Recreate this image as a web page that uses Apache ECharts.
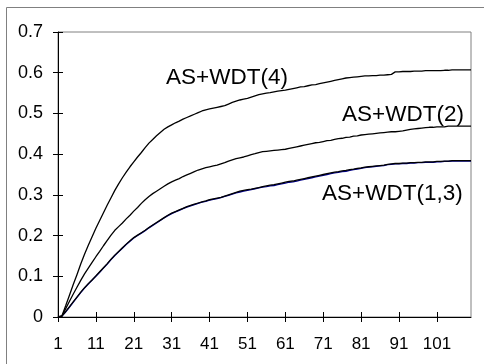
<!DOCTYPE html>
<html>
<head>
<meta charset="utf-8">
<script src="https://cdn.jsdelivr.net/npm/echarts@6/dist/echarts.min.js"></script>
<style>
  html, body { margin: 0; padding: 0; background: #fff; }
  #chart { width: 484px; height: 364px; }
</style>
</head>
<body>
<div id="chart"></div>
<script>
// Step numbers 1..110 along the horizontal axis
const steps = Array.from({ length: 110 }, (_, i) => String(i + 1));

const wdt4 = [
  0, 0.002, 0.027, 0.053, 0.079, 0.104, 0.130, 0.154, 0.176, 0.197,
  0.218, 0.237, 0.256, 0.275, 0.293, 0.311, 0.327, 0.342, 0.356, 0.369,
  0.381, 0.393, 0.404, 0.416, 0.427, 0.436, 0.445, 0.453, 0.461, 0.467,
  0.472, 0.477, 0.481, 0.486, 0.490, 0.494, 0.498, 0.502, 0.506, 0.509,
  0.511, 0.513, 0.515, 0.517, 0.519, 0.523, 0.527, 0.530, 0.533, 0.535,
  0.537, 0.540, 0.543, 0.546, 0.548, 0.550, 0.551, 0.553, 0.555, 0.556,
  0.557, 0.559, 0.561, 0.563, 0.565, 0.566, 0.568, 0.570, 0.571, 0.573,
  0.575, 0.577, 0.579, 0.581, 0.583, 0.585, 0.587, 0.588, 0.589, 0.590,
  0.591, 0.592, 0.592, 0.593, 0.593, 0.594, 0.594, 0.595, 0.596, 0.602,
  0.602, 0.603, 0.603, 0.603, 0.604, 0.604, 0.604, 0.605, 0.605, 0.605,
  0.605, 0.605, 0.606, 0.606, 0.607, 0.607, 0.607, 0.607, 0.607, 0.607
];

const wdt2 = [
  0, 0.002, 0.020, 0.038, 0.056, 0.073, 0.090, 0.106, 0.120, 0.134,
  0.148, 0.161, 0.175, 0.188, 0.201, 0.213, 0.222, 0.231, 0.241, 0.250,
  0.260, 0.269, 0.279, 0.288, 0.296, 0.303, 0.309, 0.315, 0.321, 0.327,
  0.332, 0.336, 0.340, 0.345, 0.349, 0.353, 0.357, 0.361, 0.364, 0.367,
  0.369, 0.371, 0.373, 0.376, 0.379, 0.383, 0.386, 0.389, 0.391, 0.393,
  0.396, 0.399, 0.401, 0.404, 0.406, 0.407, 0.408, 0.409, 0.410, 0.411,
  0.412, 0.414, 0.416, 0.418, 0.420, 0.422, 0.424, 0.426, 0.428, 0.429,
  0.431, 0.433, 0.434, 0.436, 0.438, 0.439, 0.441, 0.442, 0.444, 0.445,
  0.447, 0.448, 0.449, 0.450, 0.451, 0.452, 0.453, 0.454, 0.455, 0.455,
  0.456, 0.457, 0.459, 0.461, 0.462, 0.463, 0.464, 0.465, 0.466, 0.466,
  0.467, 0.467, 0.467, 0.469, 0.469, 0.469, 0.469, 0.469, 0.469, 0.469
];

const wdt1 = [
  0, 0.002, 0.013, 0.025, 0.037, 0.049, 0.061, 0.072, 0.082, 0.091,
  0.101, 0.111, 0.121, 0.131, 0.142, 0.152, 0.161, 0.170, 0.179, 0.187,
  0.195, 0.201, 0.207, 0.213, 0.220, 0.226, 0.232, 0.238, 0.244, 0.250,
  0.255, 0.259, 0.263, 0.267, 0.271, 0.274, 0.277, 0.280, 0.283, 0.285,
  0.288, 0.290, 0.292, 0.294, 0.297, 0.300, 0.303, 0.306, 0.309, 0.311,
  0.313, 0.314, 0.316, 0.318, 0.320, 0.322, 0.324, 0.325, 0.327, 0.329,
  0.331, 0.333, 0.334, 0.336, 0.338, 0.340, 0.342, 0.344, 0.346, 0.348,
  0.350, 0.352, 0.354, 0.356, 0.357, 0.359, 0.360, 0.362, 0.363, 0.365,
  0.366, 0.368, 0.369, 0.370, 0.371, 0.372, 0.373, 0.375, 0.376, 0.377,
  0.377, 0.378, 0.378, 0.379, 0.379, 0.380, 0.380, 0.381, 0.381, 0.381,
  0.382, 0.382, 0.383, 0.383, 0.384, 0.384, 0.384, 0.384, 0.384, 0.384
];

const wdt3 = [
  0, 0.002, 0.012, 0.024, 0.036, 0.048, 0.060, 0.071, 0.081, 0.091,
  0.100, 0.110, 0.120, 0.130, 0.141, 0.151, 0.160, 0.169, 0.178, 0.186,
  0.194, 0.200, 0.206, 0.212, 0.219, 0.225, 0.231, 0.237, 0.243, 0.249,
  0.254, 0.258, 0.262, 0.266, 0.270, 0.273, 0.276, 0.279, 0.282, 0.284,
  0.287, 0.289, 0.291, 0.293, 0.296, 0.299, 0.302, 0.305, 0.307, 0.309,
  0.311, 0.313, 0.315, 0.317, 0.319, 0.320, 0.322, 0.323, 0.325, 0.327,
  0.329, 0.331, 0.332, 0.334, 0.336, 0.338, 0.340, 0.342, 0.344, 0.346,
  0.348, 0.350, 0.352, 0.354, 0.355, 0.357, 0.358, 0.360, 0.362, 0.363,
  0.365, 0.367, 0.368, 0.369, 0.370, 0.371, 0.372, 0.374, 0.375, 0.376,
  0.376, 0.377, 0.377, 0.378, 0.378, 0.379, 0.379, 0.380, 0.380, 0.380,
  0.381, 0.381, 0.382, 0.382, 0.383, 0.383, 0.383, 0.383, 0.383, 0.383
];

const curveLabels = ['AS+WDT(4)', 'AS+WDT(2)', 'AS+WDT(1,3)'];

const FONT = '"Liberation Sans", Arial, sans-serif';
const chart = echarts.init(document.getElementById('chart'), null, { renderer: 'canvas' });

const tickStyle = { color: '#000', width: 1 };

function line(name, data, color) {
  return {
    name, type: 'line', data,
    xAxisIndex: 0, yAxisIndex: 0,
    showSymbol: false, symbol: 'none',
    lineStyle: { color, width: 1.3 },
    emphasis: { disabled: true },
    silent: true
  };
}

chart.setOption({
  animation: false,
  backgroundColor: '#fff',
  grid: {
    left: 58, top: 32, right: 13, bottom: 47,
    show: true, borderColor: '#808080', borderWidth: 1, backgroundColor: 'transparent'
  },
  xAxis: [
    {
      type: 'category', data: steps, boundaryGap: false, position: 'bottom',
      axisLine: { show: true, lineStyle: tickStyle },
      axisTick: { show: true, interval: 9, length: 5, lineStyle: tickStyle },
      axisLabel: { interval: 9, margin: 19, color: '#000', fontSize: 17, fontFamily: FONT },
      splitLine: { show: false }
    },
    {
      type: 'category', data: steps, boundaryGap: false, position: 'bottom',
      axisLine: { show: false },
      axisTick: { show: true, inside: true, interval: 9, length: 5, lineStyle: tickStyle },
      axisLabel: { show: false },
      splitLine: { show: false }
    }
  ],
  yAxis: [
    {
      type: 'value', min: 0, max: 0.7, interval: 0.1, position: 'left',
      axisLine: { show: true, lineStyle: tickStyle },
      axisTick: { show: true, length: 5, lineStyle: tickStyle },
      axisLabel: { margin: 15, color: '#000', fontSize: 18, fontFamily: FONT },
      splitLine: { show: false }
    },
    {
      type: 'value', min: 0, max: 0.7, interval: 0.1, position: 'left',
      axisLine: { show: false },
      axisTick: { show: true, inside: true, length: 5, lineStyle: tickStyle },
      axisLabel: { show: false },
      splitLine: { show: false }
    }
  ],
  series: [
    line('AS+WDT(3)', wdt3, '#00008b'),
    line('AS+WDT(1)', wdt1, '#000'),
    line('AS+WDT(2)', wdt2, '#000'),
    line('AS+WDT(4)', wdt4, '#000')
  ],
  graphic: [
    {
      type: 'rect', silent: true, z: -1,
      shape: { x: 6.5, y: 7.5, width: 600, height: 500 },
      style: { fill: 'none', stroke: '#808080', lineWidth: 1 }
    },
    {
      type: 'text', left: 166, top: 66, silent: true,
      style: { text: curveLabels[0], font: '22.5px ' + FONT, fill: '#000' }
    },
    {
      type: 'text', left: 342, top: 103, silent: true,
      style: { text: curveLabels[1], font: '22.5px ' + FONT, fill: '#000' }
    },
    {
      type: 'text', left: 322, top: 182, silent: true,
      style: { text: curveLabels[2], font: '22.5px ' + FONT, fill: '#000' }
    }
  ]
});
</script>
</body>
</html>
